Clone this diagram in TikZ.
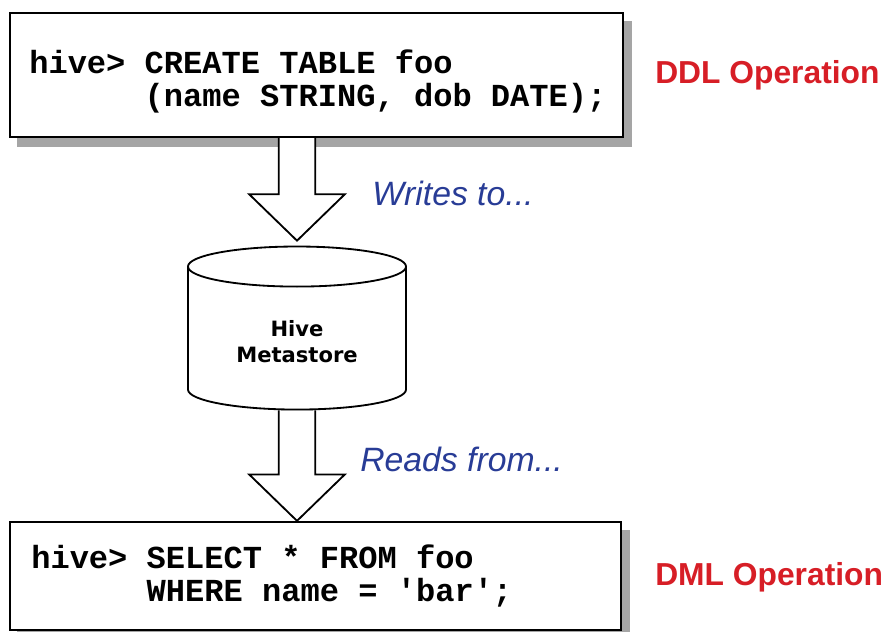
\documentclass[tikz,border=0pt]{standalone}
\usepackage{fontspec}
\setmainfont{Liberation Sans}
\setmonofont{Liberation Mono}
\newfontfamily\metafont{DejaVu Sans}
\usepackage{tikz}
\usetikzlibrary{positioning,shapes.geometric,calc}
\definecolor{opred}{RGB}{215,30,38}
\definecolor{noteblue}{RGB}{40,60,150}
\definecolor{shadowgray}{RGB}{165,165,165}
\pgfdeclarelayer{shadow}
\pgfdeclarelayer{background}
\pgfsetlayers{shadow,background,main}
\newcommand{\blockarrow}[2]{%
  \begin{pgfonlayer}{shadow}
    \fill[shadowgray, xshift=5.7pt, yshift=-6.4pt] let \p1=(#1), \p2=(#2) in
      (\x1-13pt,\y1) -- (\x1-13pt,\y2+33pt) -- (\x1-34pt,\y2+33pt) -- (\x2,\y2)
      -- (\x1+34pt,\y2+33pt) -- (\x1+13pt,\y2+33pt) -- (\x1+13pt,\y1) -- cycle;
  \end{pgfonlayer}
  \begin{pgfonlayer}{background}
    \filldraw[bigarrow] let \p1=(#1), \p2=(#2) in
      (\x1-13pt,\y1) -- (\x1-13pt,\y2+33pt) -- (\x1-34pt,\y2+33pt) -- (\x2,\y2)
      -- (\x1+34pt,\y2+33pt) -- (\x1+13pt,\y2+33pt) -- (\x1+13pt,\y1);
  \end{pgfonlayer}}

\begin{document}
\begin{tikzpicture}[x=0.025cm, y=-0.025cm, line join=miter,
  frame/.style={draw, line width=1.6pt, fill=white, inner sep=0pt},
  code/.style={inner sep=0pt, align=left, font=\ttfamily\bfseries\fontsize{22.8}{23.4}\selectfont},
  oplabel/.style={inner sep=0pt, anchor=west, text=opred, font=\bfseries\fontsize{22.6}{26}\selectfont},
  note/.style={inner sep=0pt, anchor=west, text=noteblue, font=\itshape\fontsize{24}{28}\selectfont},
  store/.style={cylinder, shape border rotate=90, aspect=0.33, draw, line width=1.3pt, fill=white,
    minimum width=5.45cm, minimum height=4.075cm, inner sep=0pt, align=center,
    font=\metafont\bfseries\fontsize{15}{18.4}\selectfont},
  bigarrow/.style={draw, fill=white, line width=1.3pt}]
\useasboundingbox (0,0) rectangle (885,631);
\node[frame, minimum width=15.325cm, minimum height=3.1cm] (ddlbox) at (316.5,75) {};
\node[frame, minimum width=15.275cm, minimum height=2.7cm] (dmlbox) at (315.5,576) {};
\begin{pgfonlayer}{shadow}
\fill[shadowgray] ([xshift=5.7pt, yshift=-6.4pt]ddlbox.south west) rectangle ([xshift=5.7pt, yshift=-6.4pt]ddlbox.north east);
\fill[shadowgray] ([xshift=5.7pt, yshift=-6.4pt]dmlbox.south west) rectangle ([xshift=5.7pt, yshift=-6.4pt]dmlbox.north east);
\end{pgfonlayer}
\node[code, anchor=base west] (ddlcode) at (29,106) {hive> CREATE TABLE foo\\\phantom{hive> }(name STRING, dob DATE);};
\node[code, anchor=base west] (dmlcode) at (31,601) {hive> SELECT * FROM foo\\\phantom{hive> }WHERE name = 'bar';};
\node[store] (meta) at (297,338.5) {\rule{0pt}{16pt}Hive\\Metastore};
\node[oplabel] (ddlop) at (655,75) {DDL Operation};
\node[oplabel] (dmlop) at (655,577) {DML Operation};
\node[note] (writes) at (372,193) {Writes to...};
\node[note] (reads) at (360,459) {Reads from...};
\blockarrow{meta.north |- ddlbox.south}{[yshift=3.5pt]meta.north}
\blockarrow{meta.south}{meta.south |- dmlbox.north}
\end{tikzpicture}
\end{document}
